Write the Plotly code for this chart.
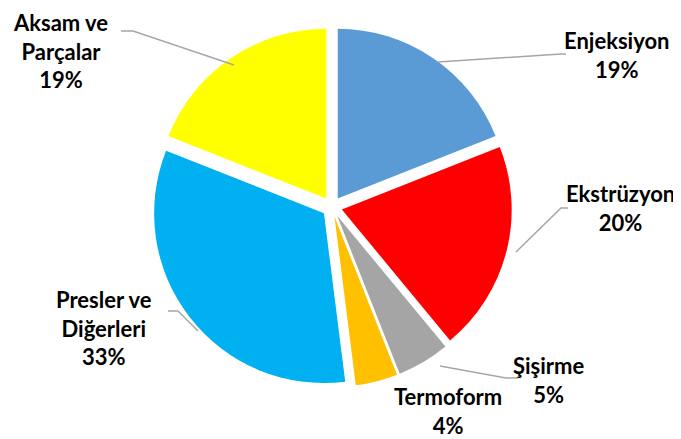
import plotly.graph_objects as go

W, H = 681, 439

categories = ["Enjeksiyon", "Ekstrüzyon", "Şişirme", "Termoform", "Presler ve Diğerleri", "Aksam ve Parçalar"]
label_text = ["Enjeksiyon", "Ekstrüzyon", "Şişirme", "Termoform", "Presler ve<br>Diğerleri", "Aksam ve<br>Parçalar"]
values = [19, 20, 5, 4, 33, 19]
colors = ["#5B9BD5", "#FF0000", "#A5A5A5", "#FFC000", "#00B0F0", "#FFFF00"]

# label placement (pixel anchors) and leader lines (pixel polylines)
label_pos = [(608, 47), (612, 200), (540, 372), (440, 403), (96, 320), (53, 43)]
leaders = [
    [(430, 54), (553, 46), (558, 46)],
    [(508, 244), (553, 200), (560, 200)],
    [(432, 358), (498, 370), (510, 370)],
    None,
    [(160, 303), (170, 303), (190, 323)],
    [(113, 23), (125, 23), (226, 57)],
]

def px(x):
    return x / W

def py(y):
    return 1 - y / H

total = sum(values)

fig = go.Figure(go.Pie(
    labels=categories,
    values=values,
    marker=dict(colors=colors, line=dict(color="white", width=0)),
    sort=False,
    direction="clockwise",
    rotation=0,
    pull=[0.06] * len(values),
    textinfo="none",
    hoverinfo="label+percent",
    domain=dict(x=[px(144), px(504)], y=[py(379), py(19)]),
    showlegend=False,
))

annotations = []
for txt, v, (x, y) in zip(label_text, values, label_pos):
    pct = f"{v / total * 100:.0f}%"
    annotations.append(dict(
        x=px(x), y=py(y), xref="paper", yref="paper",
        xanchor="center", yanchor="middle", showarrow=False,
        align="center",
        text=f"<b>{txt}<br>{pct}</b>",
        font=dict(family="Lato", size=22, color="#000000"),
    ))

shapes = []
for pts in leaders:
    if not pts:
        continue
    path = "M " + " L ".join(f"{px(x)},{py(y)}" for x, y in pts)
    shapes.append(dict(type="path", xref="paper", yref="paper", path=path,
                       line=dict(color="#A6A6A6", width=1.5)))

fig.update_layout(
    width=W, height=H,
    margin=dict(l=0, r=0, t=0, b=0),
    paper_bgcolor="white", plot_bgcolor="white",
    annotations=annotations,
    shapes=shapes,
)

fig.write_html("out.html")
